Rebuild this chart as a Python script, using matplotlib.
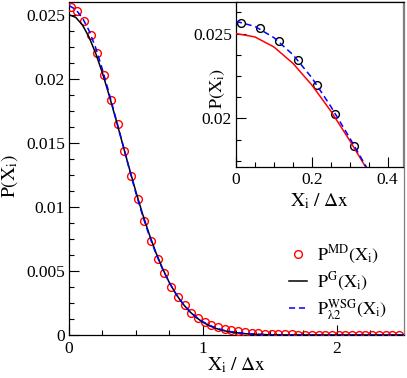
import matplotlib
matplotlib.use('Agg')
import matplotlib.pyplot as plt
from matplotlib.ticker import MultipleLocator

plt.rcParams['font.family'] = ['Liberation Serif', 'DejaVu Serif']
plt.rcParams['mathtext.fontset'] = 'stix'

# MD histogram (bin centres)
x_md = [0.0125, 0.0625, 0.1125, 0.1625, 0.2125, 0.2625, 0.3125, 0.3625, 0.4125, 0.4625,
        0.5125, 0.5625, 0.6125, 0.6625, 0.7125, 0.7625, 0.8125, 0.8625, 0.9125, 0.9625,
        1.0125, 1.0625, 1.1125, 1.1625, 1.2125, 1.2625, 1.3125, 1.3625, 1.4125, 1.4625,
        1.5125, 1.5625, 1.6125, 1.6625, 1.7125, 1.7625, 1.8125, 1.8625, 1.9125, 1.9625,
        2.0125, 2.0625, 2.1125, 2.1625, 2.2125, 2.2625, 2.3125, 2.3625, 2.4125, 2.4625]
p_md = [0.02564, 0.02530, 0.02454, 0.02343, 0.02198, 0.02026, 0.01838, 0.01646, 0.01440, 0.01245,
        0.01060, 0.00888, 0.00732, 0.00596, 0.00482, 0.00377, 0.00294, 0.00232, 0.00174, 0.00135,
        0.00104, 0.00078, 0.00062, 0.00049, 0.00038, 0.00029, 0.00022, 0.00017, 0.00013, 0.00010,
        0.00008, 0.00006, 0.00005, 0.00004, 0.00003, 0.00003, 0.00002, 0.00002, 0.00002, 0.00002,
        0.00002, 0.00002, 0.00002, 0.00002, 0.00002, 0.00002, 0.00002, 0.00002, 0.00002, 0.00002]

# curves
x_curve = [0.0, 0.05, 0.1, 0.15, 0.2, 0.25, 0.3, 0.35, 0.4, 0.45, 0.5, 0.55, 0.6, 0.65, 0.7,
           0.75, 0.8, 0.85, 0.9, 0.95, 1.0, 1.05, 1.1, 1.15, 1.2, 1.3, 1.4, 1.5, 1.6, 1.8, 2.5]
p_gauss = [0.02500, 0.02480, 0.02421, 0.02325, 0.02197, 0.02044, 0.01870, 0.01684, 0.01492,
           0.01301, 0.01116, 0.00942, 0.00783, 0.00640, 0.00515, 0.00407, 0.00317, 0.00243,
           0.00183, 0.00136, 0.00099, 0.00071, 0.00050, 0.00035, 0.00024, 0.00011, 0.000045,
           0.000018, 0.000006, 0.0, 0.0]
p_wsg = [0.02572, 0.02542, 0.02476, 0.02376, 0.02240, 0.02071, 0.01885, 0.01690, 0.01495,
         0.01295, 0.01105, 0.00930, 0.00772, 0.00632, 0.00510, 0.00406, 0.00318, 0.00246,
         0.00187, 0.00140, 0.00103, 0.00075, 0.00054, 0.00038, 0.00027, 0.00013, 0.00006,
         0.00002, 0.00001, 0.0, 0.0]

main_xticks = [0, 1, 2]
main_xticklabels = ['0', '1', '2']
main_yticks = [0, 0.005, 0.01, 0.015, 0.02, 0.025]
main_yticklabels = ['0', '0.005', '0.01', '0.015', '0.02', '0.025']
ins_xticks = [0, 0.2, 0.4]
ins_xticklabels = ['0', '0.2', '0.4']
ins_yticks = [0.02, 0.025]
ins_yticklabels = ['0.02', '0.025']

fig = plt.figure(figsize=(4.07, 3.78), dpi=100)
ax = fig.add_axes([0.1695, 0.1138, 0.8231, 0.8810])

ax.plot(x_md, p_md, 'o', ms=5.6, mfc='none', mec='red', mew=1.0,
        label=r'$\mathrm{P^{MD}(X_i)}$', zorder=3)
ax.plot(x_curve, p_gauss, '-', color='black', lw=1.1, label=r'$\mathrm{P^{G}(X_i)}$', zorder=4)
ax.plot(x_curve, p_wsg, '--', color='blue', lw=1.1, dashes=(4, 2.5),
        label=r'$\mathrm{P^{WSG}_{\lambda 2}(X_i)}$', zorder=5)

ax.set_xlim(0, 2.5)
ax.set_ylim(0, 0.026)
ax.set_xticks(main_xticks)
ax.set_xticklabels(main_xticklabels)
ax.set_yticks(main_yticks)
ax.set_yticklabels(main_yticklabels)
ax.xaxis.set_minor_locator(MultipleLocator(0.25))
ax.yaxis.set_minor_locator(MultipleLocator(0.00125))
ax.tick_params(which='both', direction='in', top=False, right=False, labelsize=12.5)
ax.tick_params(which='major', length=7, width=0.8)
ax.tick_params(which='minor', length=3.6, width=0.8)
ax.tick_params(axis='x', pad=4)
ax.tick_params(axis='y', pad=3)
for s in ax.spines.values():
    s.set_linewidth(0.9)
ax.spines['right'].set_color('#808080')

ax.set_xlabel(r'$\mathrm{X_i\ /\ \Delta x}$', fontsize=14)
ax.xaxis.set_label_coords(0.5, -0.062)
ax.set_ylabel(r'$\mathrm{P(X_i)}$', fontsize=14)
ax.yaxis.set_label_coords(-0.145, 0.477)

leg = ax.legend(loc='upper left', bbox_to_anchor=(0.635, 0.295), frameon=False, fontsize=13,
                handlelength=1.0, handletextpad=0.55, labelspacing=0.25, borderaxespad=0)

# inset
ins = fig.add_axes([0.5799, 0.559, 0.4095, 0.4357])
ins.plot(x_md, p_md, 'o', ms=5.6, mfc='none', mec='black', mew=1.0, zorder=3)
ins.plot(x_curve, p_gauss, '-', color='red', lw=1.1, zorder=4)
ins.plot(x_curve, p_wsg, '--', color='blue', lw=1.1, dashes=(4, 2.5), zorder=5)
ins.set_xlim(0, 0.44)
ins.set_ylim(0.01715, 0.02686)
ins.set_xticks(ins_xticks)
ins.set_xticklabels(ins_xticklabels)
ins.set_yticks(ins_yticks)
ins.set_yticklabels(ins_yticklabels)
ins.xaxis.set_minor_locator(MultipleLocator(0.05))
ins.yaxis.set_minor_locator(MultipleLocator(0.00125))
ins.tick_params(which='both', direction='in', top=False, right=False, labelsize=12.5)
ins.tick_params(which='major', length=7, width=0.8)
ins.tick_params(which='minor', length=3.6, width=0.8)
ins.tick_params(axis='x', pad=4)
ins.tick_params(axis='y', pad=3)
for s in ins.spines.values():
    s.set_linewidth(0.9)
ins.spines['right'].set_color('#808080')
ins.set_xlabel(r'$\mathrm{X_i\ /\ \Delta x}$', fontsize=14)
ins.xaxis.set_label_coords(0.5, -0.15)
ins.set_ylabel(r'$\mathrm{P(X_i)}$', fontsize=13)
ins.yaxis.set_label_coords(-0.055, 0.475)

fig.savefig('out.png', dpi=100)
